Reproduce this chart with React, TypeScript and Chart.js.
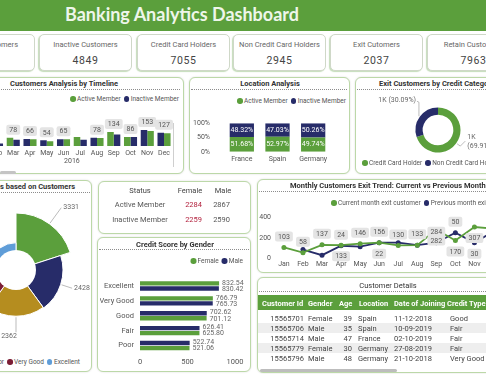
import React, { useEffect, useRef } from 'react';
import { Chart, registerables } from 'chart.js';

Chart.register(...registerables);

const FONT = 'Roboto, "Noto Sans", sans-serif';
Chart.defaults.font.family = FONT;
Chart.defaults.color = '#555';

const GREEN = '#5b9f3c';
const NAVY = '#272c69';
const GOLD = '#b58d1f';
const DARKRED = '#7b1d35';
const LIGHTBLUE = '#5f9dd8';
const FEMALE_RED = '#b3233f';
const LABEL_BG = '#e4e4e4';

// ---------- data ----------
const kpiTitles = ['Active Customers', 'Inactive Customers', 'Credit Card Holders', 'Non Credit Card Holders', 'Exit Cutomers', 'Retain Customers'];
const kpiValues = ['5151', '4849', '7055', '2945', '2037', '7963'];

const months = ['Jan', 'Feb', 'Mar', 'Apr', 'May', 'Jun', 'Jul', 'Aug', 'Sep', 'Oct', 'Nov', 'Dec'];
const timelineActive = [70, 40, 78, 65, 45, 64, 85, 77, 134, 86, 143, 122];
const timelineInactive = [55, 25, 60, 66, 54, 65, 60, 78, 110, 85, 153, 127];
const timelineLabels = ['', '', '78', '66', '54', '65', '', '78', '134', '86', '153', '127'];
const timelineYear = '2016';

const locations = ['France', 'Spain', 'Germany'];
const locActive = [51.68, 52.97, 49.74];
const locInactive = [48.32, 47.03, 50.26];

const exitCategories = ['Credit Card Holder', 'Non Credit Card Holder'];
const exitCounts = [1424, 613];

const creditTypes = ['Fair', 'Good', 'Poor', 'Very Good', 'Excellent'];
const creditTypeCounts = [3331, 2428, 2362, 1224, 655];
const creditTypeShown = ['3331', '2428', '2362', '', ''];

const statusRows = ['Active Member', 'Inactive Member'];
const statusFemale = [2284, 2259];
const statusMale = [2867, 2590];

const creditLevels = ['Excellent', 'Very Good', 'Good', 'Fair', 'Poor'];
const femaleScore = [832.54, 766.79, 701.12, 625.8, 521.06];
const maleScore = [830.42, 765.73, 702.62, 626.41, 522.74];

const trendCurrent = [105, 53, 130, 127, 142, 152, 125, 127, 282, 174, 307, 290];
const trendPrevious = [null, 84, 28, 121, 112, 152, 152, 127, 152, 251, 152, 262];
const trendCurrentLabels = ['103', '58', '137', '133', '146', '156', '130', '133', '282', '170', '307', ''];
const trendCurrentSide = [1, 1, 1, -1, 1, 1, 1, 1, -1, -1, -1, 0];
const trendPreviousLabels = ['', '', '', '24', '', '22', '', '', '284', '50', '30', ''];
const trendPreviousSide = [0, 0, 0, 1, 0, -1, 0, 0, 1, 1, -1, 0];

const custIds = ['15565701', '15565706', '15565714', '15565779', '15565796'];
const custGender = ['Female', 'Male', 'Male', 'Female', 'Male'];
const custAge = [39, 35, 47, 30, 48];
const custLocation = ['Spain', 'Spain', 'France', 'Germany', 'Germany'];
const custJoin = ['11-12-2018', '10-09-2019', '02-10-2019', '27-08-2019', '21-10-2018'];
const custCredit = ['Good', 'Fair', 'Fair', 'Fair', 'Very Good'];

// ---------- helpers ----------
function drawBoxLabel(ctx: CanvasRenderingContext2D, text: string, x: number, y: number, size = 7) {
  ctx.save();
  ctx.font = `${size}px ${FONT}`;
  const w = ctx.measureText(text).width + 6;
  const h = size + 3;
  ctx.fillStyle = LABEL_BG;
  ctx.beginPath();
  (ctx as any).roundRect(x - w / 2, y - h / 2, w, h, 2);
  ctx.fill();
  ctx.fillStyle = '#555';
  ctx.textAlign = 'center';
  ctx.textBaseline = 'middle';
  ctx.fillText(text, x, y + 0.5);
  ctx.restore();
}

function ChartBox({ style, make }: { style: any; make: () => any }) {
  const ref = useRef<HTMLCanvasElement>(null);
  useEffect(() => {
    const chart = new Chart(ref.current as HTMLCanvasElement, make());
    return () => chart.destroy();
  }, []);
  return (
    <div style={{ position: 'absolute', ...style }}>
      <canvas ref={ref} />
    </div>
  );
}

function T({ x, y, children, align = 'center', size = 7, color = '#555', weight = 400, family = FONT, style = {} }: any) {
  const tx = align === 'center' ? '-50%' : align === 'right' ? '-100%' : '0';
  return (
    <div
      style={{
        position: 'absolute', left: x, top: y, transform: `translate(${tx},-50%)`, whiteSpace: 'nowrap',
        fontSize: size, color, fontWeight: weight, fontFamily: family, lineHeight: 1.2, ...style,
      }}
    >
      {children}
    </div>
  );
}

function Legend({ x, y, items, align = 'left', gap = 3 }: any) {
  const tx = align === 'right' ? '-100%' : '0';
  return (
    <div
      style={{
        position: 'absolute', left: x, top: y, transform: `translate(${tx},-50%)`, display: 'flex', alignItems: 'center',
        whiteSpace: 'nowrap', fontSize: 6.5, color: '#555', fontFamily: FONT,
      }}
    >
      {items.map((it: any, i: number) => (
        <span key={i} style={{ display: 'flex', alignItems: 'center', marginLeft: i ? gap : 0 }}>
          <span style={{ width: 5.5, height: 5.5, borderRadius: '50%', background: it[1], marginRight: 1.5, display: 'inline-block' }} />
          {it[0]}
        </span>
      ))}
    </div>
  );
}

function Panel({ l, t, w, h }: any) {
  return (
    <div
      style={{
        position: 'absolute', left: l, top: t, width: w, height: h, border: '1px solid #bcd8a8', borderRadius: 6,
        background: '#fff', boxSizing: 'border-box', boxShadow: '0 0 2px rgba(0,0,0,0.15)',
      }}
    />
  );
}

function Dots({ l, t, w }: any) {
  return <div style={{ position: 'absolute', left: l, top: t, width: w, borderTop: '1px dotted #8c8c8c' }} />;
}

const noGrid = { display: false, drawTicks: false };
const noBorder = { display: false };

// ---------- chart configs ----------
function timelineConfig() {
  const first = months.map((_, i) => Math.max(timelineActive[i], timelineInactive[i]));
  const second = months.map((_, i) => Math.min(timelineActive[i], timelineInactive[i]));
  const firstCol = months.map((_, i) => (timelineActive[i] >= timelineInactive[i] ? GREEN : NAVY));
  const secondCol = months.map((_, i) => (timelineActive[i] >= timelineInactive[i] ? NAVY : GREEN));
  return {
    type: 'bar',
    data: {
      labels: months,
      datasets: [
        { data: first, backgroundColor: firstCol, categoryPercentage: 0.78, barPercentage: 1 },
        { data: second, backgroundColor: secondCol, categoryPercentage: 0.78, barPercentage: 1 },
      ],
    },
    options: {
      animation: false, responsive: true, maintainAspectRatio: false,
      layout: { padding: 0 },
      plugins: { legend: { display: false }, tooltip: { enabled: false } },
      scales: {
        x: {
          grid: noGrid, border: noBorder,
          ticks: { font: { size: 7 }, padding: 3, color: '#555', autoSkip: false, maxRotation: 0 },
          title: { display: true, text: timelineYear, font: { size: 7 }, padding: 0, color: '#555' },
          afterFit: (s: any) => { s.height = 19; },
        },
        y: { display: false, min: 0, max: 363 },
      },
    },
    plugins: [{
      id: 'tlLabels',
      afterDatasetsDraw(chart: any) {
        const m0 = chart.getDatasetMeta(0);
        m0.data.forEach((bar: any, i: number) => {
          const t = timelineLabels[i];
          if (!t) return;
          drawBoxLabel(chart.ctx, t, chart.scales.x.getPixelForValue(i), bar.y - 8);
        });
      },
    }],
  };
}

function locationConfig() {
  return {
    type: 'bar',
    data: {
      labels: locations,
      datasets: [
        { label: 'Active Member', data: locActive, backgroundColor: GREEN, categoryPercentage: 0.68, barPercentage: 1 },
        { label: 'Inactive Member', data: locInactive, backgroundColor: NAVY, categoryPercentage: 0.68, barPercentage: 1 },
      ],
    },
    options: {
      animation: false, responsive: true, maintainAspectRatio: false,
      layout: { padding: { top: 8, right: 9 } },
      plugins: { legend: { display: false }, tooltip: { enabled: false } },
      scales: {
        x: {
          stacked: true, grid: noGrid, border: noBorder,
          ticks: { font: { size: 7 }, padding: 3, color: '#555' },
          afterFit: (s: any) => { s.height = 13; },
        },
        y: {
          stacked: true, min: 0, max: 100, grid: noGrid, border: noBorder,
          ticks: { stepSize: 50, font: { size: 7 }, padding: 14, color: '#555', callback: (v: any) => v + '%' },
          afterFit: (s: any) => { s.width = 34; },
        },
      },
    },
    plugins: [{
      id: 'locLabels',
      afterDatasetsDraw(chart: any) {
        const ctx = chart.ctx;
        ctx.save();
        ctx.font = `7px ${FONT}`;
        ctx.fillStyle = '#fff';
        ctx.textAlign = 'center';
        ctx.textBaseline = 'middle';
        chart.data.datasets.forEach((ds: any, di: number) => {
          chart.getDatasetMeta(di).data.forEach((bar: any, i: number) => {
            ctx.fillText(ds.data[i].toFixed(2) + '%', bar.x, (bar.y + bar.base) / 2);
          });
        });
        ctx.restore();
      },
    }],
  };
}

function exitConfig() {
  const total = exitCounts.reduce((a, b) => a + b, 0);
  return {
    type: 'doughnut',
    data: {
      labels: exitCategories,
      datasets: [{ data: exitCounts, backgroundColor: [GREEN, NAVY], borderWidth: 0 }],
    },
    options: {
      animation: false, responsive: true, maintainAspectRatio: false,
      radius: 22.5, cutout: '68%',
      plugins: { legend: { display: false }, tooltip: { enabled: false } },
    },
    plugins: [{
      id: 'exitLeaders',
      afterDatasetsDraw(chart: any) {
        const ctx = chart.ctx;
        const meta = chart.getDatasetMeta(0);
        ctx.save();
        ctx.font = `7px ${FONT}`;
        ctx.fillStyle = '#666';
        ctx.strokeStyle = '#aaa';
        ctx.lineWidth = 0.8;
        meta.data.forEach((arc: any, i: number) => {
          const v = exitCounts[i];
          const pct = ((v / total) * 100).toFixed(2) + '%';
          const k = (v / 1000).toFixed(0) + 'K';
          const mid = (arc.startAngle + arc.endAngle) / 2;
          const dx = Math.cos(mid), dy = Math.sin(mid);
          const R = arc.outerRadius;
          const sx = arc.x + dx * (R + 1), sy = arc.y + dy * (R + 1);
          if (dx < 0) {
            const ex = sx, ey = sy - 14;
            ctx.beginPath(); ctx.moveTo(sx, sy); ctx.lineTo(ex, ey); ctx.lineTo(ex - 2, ey - 1); ctx.stroke();
            ctx.textAlign = 'right'; ctx.textBaseline = 'middle';
            ctx.fillText(`${k} (${pct})`, ex - 3, ey - 1.5);
          } else {
            const ex = arc.x + dx * (R + 5), ey = arc.y + dy * (R + 5);
            ctx.beginPath(); ctx.moveTo(sx, sy); ctx.lineTo(ex, ey); ctx.lineTo(ex + 5, ey - 5); ctx.stroke();
            ctx.textAlign = 'left'; ctx.textBaseline = 'middle';
            ctx.fillText(k, ex + 7, ey - 9);
            ctx.fillText(`(${pct})`, ex + 7, ey);
          }
        });
        ctx.restore();
      },
    }],
  };
}

function creditTypeConfig() {
  return {
    type: 'polarArea',
    data: {
      labels: creditTypes,
      datasets: [{
        data: creditTypeCounts,
        backgroundColor: [GREEN, NAVY, GOLD, DARKRED, LIGHTBLUE],
        borderColor: '#fff', borderWidth: 1,
      }],
    },
    options: {
      animation: false, responsive: true, maintainAspectRatio: false,
      layout: { padding: 23 },
      plugins: { legend: { display: false }, tooltip: { enabled: false } },
      scales: { r: { display: false, min: -1800, max: 3331 } },
    },
    plugins: [{
      id: 'holeAndLabels',
      afterDatasetsDraw(chart: any) {
        const ctx = chart.ctx;
        const r = chart.scales.r;
        const hole = r.getDistanceFromCenterForValue(0);
        ctx.save();
        ctx.fillStyle = '#fff';
        ctx.beginPath();
        ctx.arc(r.xCenter, r.yCenter, hole, 0, Math.PI * 2);
        ctx.fill();
        ctx.font = `7px ${FONT}`;
        ctx.fillStyle = '#666';
        ctx.strokeStyle = '#aaa';
        ctx.lineWidth = 0.8;
        chart.getDatasetMeta(0).data.forEach((arc: any, i: number) => {
          const t = creditTypeShown[i];
          if (!t) return;
          const mid = (arc.startAngle + arc.endAngle) / 2;
          const dx = Math.cos(mid), dy = Math.sin(mid);
          const R = arc.outerRadius;
          const len = i === 0 ? 20 : i === 2 ? 16 : 12;
          const sx = arc.x + dx * (R + 1), sy = arc.y + dy * (R + 1);
          const ex = arc.x + dx * (R + len), ey = arc.y + dy * (R + len);
          ctx.beginPath(); ctx.moveTo(sx, sy); ctx.lineTo(ex, ey); ctx.stroke();
          if (dx > 0.3) { ctx.textAlign = 'left'; ctx.textBaseline = 'middle'; ctx.fillText(t, ex + 2, ey); }
          else if (dx < -0.3) { ctx.textAlign = 'right'; ctx.textBaseline = 'middle'; ctx.fillText(t, ex - 2, ey); }
          else { ctx.textAlign = 'center'; ctx.textBaseline = 'top'; ctx.fillText(t, ex - 7, ey + 1); }
        });
        ctx.restore();
      },
    }],
  };
}

function creditScoreConfig() {
  const upper = creditLevels.map((_, i) => Math.max(femaleScore[i], maleScore[i]));
  const lower = creditLevels.map((_, i) => Math.min(femaleScore[i], maleScore[i]));
  const upperCol = creditLevels.map((_, i) => (femaleScore[i] >= maleScore[i] ? GREEN : NAVY));
  const lowerCol = creditLevels.map((_, i) => (femaleScore[i] >= maleScore[i] ? NAVY : GREEN));
  return {
    type: 'bar',
    data: {
      labels: creditLevels,
      datasets: [
        { data: upper, backgroundColor: upperCol, categoryPercentage: 0.68, barPercentage: 0.86 },
        { data: lower, backgroundColor: lowerCol, categoryPercentage: 0.68, barPercentage: 0.86 },
      ],
    },
    options: {
      indexAxis: 'y',
      animation: false, responsive: true, maintainAspectRatio: false,
      layout: { padding: { top: 8, right: 15 } },
      plugins: { legend: { display: false }, tooltip: { enabled: false } },
      scales: {
        x: {
          min: 0, max: 1000, grid: noGrid, border: noBorder,
          ticks: { stepSize: 500, font: { size: 7.5 }, padding: 5, color: '#555', callback: (v: any) => String(v) },
          afterFit: (s: any) => { s.height = 14; },
        },
        y: {
          grid: noGrid, border: noBorder,
          ticks: { font: { size: 7.5 }, padding: 6, color: '#555' },
          afterFit: (s: any) => { s.width = 40; },
        },
      },
    },
    plugins: [{
      id: 'csLabels',
      afterDatasetsDraw(chart: any) {
        const ctx = chart.ctx;
        ctx.save();
        ctx.font = `7px ${FONT}`;
        ctx.fillStyle = '#666';
        ctx.textAlign = 'left';
        ctx.textBaseline = 'middle';
        chart.data.datasets.forEach((ds: any, di: number) => {
          chart.getDatasetMeta(di).data.forEach((bar: any, i: number) => {
            ctx.fillText(ds.data[i].toFixed(2), bar.x + 3, bar.y + (di === 0 ? -0.5 : 0.5));
          });
        });
        ctx.restore();
      },
    }],
  };
}

function trendConfig() {
  return {
    type: 'line',
    data: {
      labels: months,
      datasets: [
        {
          label: 'Current month exit customer', data: trendCurrent, borderColor: GREEN, backgroundColor: GREEN,
          borderWidth: 1.8, pointRadius: 2.5, pointBorderWidth: 0, tension: 0,
        },
        {
          label: 'Previous month exit customer', data: trendPrevious, borderColor: NAVY, backgroundColor: NAVY,
          borderWidth: 1.8, pointRadius: 2.5, pointBorderWidth: 0, tension: 0,
        },
      ],
    },
    options: {
      animation: false, responsive: true, maintainAspectRatio: false,
      layout: { padding: { top: 5, right: 2 } },
      plugins: { legend: { display: false }, tooltip: { enabled: false } },
      scales: {
        x: {
          offset: true, grid: noGrid, border: noBorder,
          ticks: { font: { size: 7 }, padding: 2.5, color: '#555', autoSkip: false, maxRotation: 0 },
          afterFit: (s: any) => { s.height = 12; },
        },
        y: {
          min: 0, max: 400, grid: noGrid, border: noBorder,
          ticks: { stepSize: 200, font: { size: 7 }, padding: 3.4, color: '#555' },
          afterFit: (s: any) => { s.width = 17.4; },
        },
      },
    },
    plugins: [{
      id: 'trendLabels',
      afterDatasetsDraw(chart: any) {
        const sets = [
          [trendCurrentLabels, trendCurrentSide],
          [trendPreviousLabels, trendPreviousSide],
        ];
        sets.forEach(([labels, side]: any, di: number) => {
          chart.getDatasetMeta(di).data.forEach((pt: any, i: number) => {
            const t = labels[i];
            if (!t || !side[i]) return;
            drawBoxLabel(chart.ctx, t, pt.x, pt.y - side[i] * 11);
          });
        });
      },
    }],
  };
}

// ---------- app ----------
const kpiLefts = [-58, 39, 137, 233, 330, 427];
const tableCols = [
  { h: 'Customer Id', hx: 262, x: 304, align: 'right', vals: custIds },
  { h: 'Gender', hx: 308, x: 308, align: 'left', vals: custGender },
  { h: 'Age', hx: 339, x: 352, align: 'right', vals: custAge.map(String) },
  { h: 'Location', hx: 359, x: 358, align: 'left', vals: custLocation },
  { h: 'Date of Joining', hx: 394, x: 394, align: 'left', vals: custJoin },
  { h: 'Credit Type', hx: 447, x: 450, align: 'left', vals: custCredit },
];

export default function App() {
  return (
    <div style={{ position: 'fixed', left: 0, top: 0, width: 486, height: 374, overflow: 'hidden', background: '#fff', fontFamily: FONT }}>
      {/* header */}
      <div style={{ position: 'absolute', left: 0, top: 0, width: 486, height: 31, background: GREEN }} />
      <T x={182} y={15} size={18} weight={700} color="#eef6ea" family='Lato, "Open Sans", sans-serif'>Banking Analytics Dashboard</T>

      {/* KPI cards */}
      {kpiTitles.map((t, i) => (
        <React.Fragment key={t}>
          <div style={{
            position: 'absolute', left: kpiLefts[i], top: 34, width: 93, height: 37, boxSizing: 'border-box',
            border: '1px solid #cfd8c8', borderRadius: 5, background: '#fff', boxShadow: '-1px 1px 1px rgba(90,159,60,0.35)',
          }} />
          <T x={kpiLefts[i] + 46.5} y={44} size={7.5} color="#666">{t}</T>
          <T x={kpiLefts[i] + 46.5} y={61} size={10.5} color="#444" style={{ letterSpacing: 0.6 }}>{kpiValues[i]}</T>
        </React.Fragment>
      ))}

      {/* timeline */}
      <Panel l={-10} t={77} w={194} h={97} />
      <T x={10} y={82.5} align="left" size={7.5} weight={700} color="#333">Customers Analysis by Timeline</T>
      <Dots l={-8} t={89} w={188} />
      <Legend x={179} y={99} align="right" items={[['Active Member', GREEN], ['Inactive Member', NAVY]]} />
      <ChartBox style={{ left: -29, top: 108, width: 202, height: 57 }} make={timelineConfig} />
      <div style={{ position: 'absolute', left: 173, top: 123, width: 1, height: 44, background: '#cfcfcf' }} />
      <div style={{ position: 'absolute', left: 0, top: 171, width: 16, height: 3, borderRadius: 2, background: '#c4c4c4' }} />

      {/* location */}
      <Panel l={189} t={77} w={161} h={97} />
      <T x={270} y={83} size={7.5} weight={700} color="#333">Location Analysis</T>
      <Dots l={191} t={89} w={156} />
      <Legend x={237} y={101} items={[['Active Member', GREEN], ['Inactive Member', NAVY]]} />
      <ChartBox style={{ left: 190, top: 105, width: 150, height: 65 }} make={locationConfig} />

      {/* exit donut */}
      <Panel l={355} t={77} w={140} h={97} />
      <T x={379} y={83} align="left" size={7.5} weight={700} color="#333">Exit Customers by Credit Category</T>
      <Dots l={357} t={89} w={135} />
      <ChartBox style={{ left: 370, top: 92, width: 136, height: 76 }} make={exitConfig} />
      <Legend x={362} y={163} items={[['Credit Card Holder', GREEN], ['Non Credit Card Holder', NAVY]]} />

      {/* credit types polar */}
      <Panel l={-10} t={180} w={102} h={192} />
      <T x={75} y={186} align="right" size={7.5} weight={700} color="#333">Credit Types based on Customers</T>
      <Dots l={-8} t={192} w={98} />
      <ChartBox style={{ left: -64, top: 190, width: 160, height: 160 }} make={creditTypeConfig} />
      <Legend x={80} y={362} align="right" gap={3} items={creditTypes.map((c, i) => [c, [GREEN, NAVY, GOLD, DARKRED, LIGHTBLUE][i]])} />

      {/* status table */}
      <Panel l={98} t={181} w={153} h={53} />
      <T x={140} y={190} size={7.5} color="#444">Status</T>
      <T x={190} y={190} size={7.5} color="#444">Female</T>
      <T x={223} y={190} size={7.5} color="#444">Male</T>
      {statusRows.map((s, i) => (
        <React.Fragment key={s}>
          <T x={140} y={204 + i * 14.5} size={7.5} color="#555">{s}</T>
          <T x={202} y={204 + i * 14.5} align="right" size={7.5} color={FEMALE_RED}>{statusFemale[i]}</T>
          <T x={230} y={204 + i * 14.5} align="right" size={7.5} color="#555">{statusMale[i]}</T>
        </React.Fragment>
      ))}

      {/* credit score by gender */}
      <Panel l={97} t={237} w={154} h={135} />
      <T x={175} y={243.5} size={7.5} weight={700} color="#333">Credit Score by Gender</T>
      <Dots l={99} t={249} w={150} />
      <Legend x={243} y={261} align="right" items={[['Female', GREEN], ['Male', NAVY]]} />
      <ChartBox style={{ left: 100, top: 268, width: 150, height: 99 }} make={creditScoreConfig} />

      {/* monthly trend */}
      <Panel l={257} t={179} w={240} h={94} />
      <T x={290} y={185} align="left" size={7.5} weight={700} color="#333">Monthly Customers Exit Trend: Current vs Previous Month</T>
      <Dots l={259} t={191} w={235} />
      <Legend x={331} y={203} items={[['Current month exit customer', GREEN], ['Previous month exit customer', NAVY]]} />
      <ChartBox style={{ left: 257, top: 210, width: 250, height: 60 }} make={trendConfig} />

      {/* customer details */}
      <Panel l={257} t={277} w={240} h={96} />
      <T x={388} y={285} size={7.5} color="#333">Customer Details</T>
      <Dots l={259} t={291} w={235} />
      <div style={{ position: 'absolute', left: 258, top: 295, width: 240, height: 15, background: GREEN }} />
      {[1, 3].map((r) => (
        <div key={r} style={{ position: 'absolute', left: 258, top: 313 + r * 10, width: 240, height: 10, background: '#eeeeee' }} />
      ))}
      {tableCols.map((c) => (
        <React.Fragment key={c.h}>
          <T x={c.hx} y={302.5} align="left" size={7.5} weight={700} color="#fff">{c.h}</T>
          {c.vals.map((v, r) => (
            <T key={r} x={c.x} y={318 + r * 10} align={c.align} size={7.5} color="#444">{v}</T>
          ))}
        </React.Fragment>
      ))}
      <div style={{ position: 'absolute', left: 260, top: 369, width: 137, height: 3, borderRadius: 2, background: '#bdbdbd' }} />
    </div>
  );
}
